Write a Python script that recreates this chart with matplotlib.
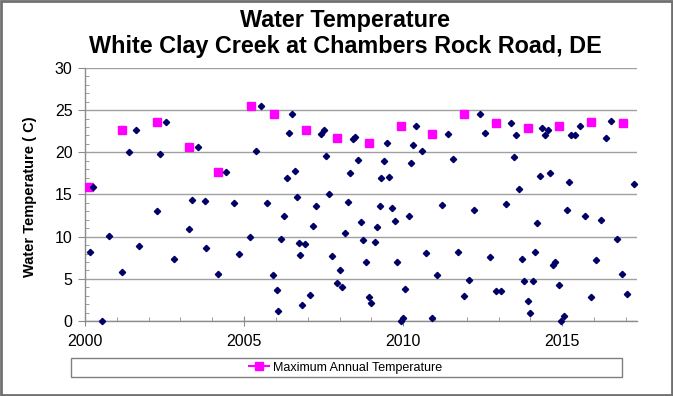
import numpy as np
import matplotlib.pyplot as plt
from matplotlib.lines import Line2D
from matplotlib.patches import Rectangle
from matplotlib.ticker import MultipleLocator

plt.rcParams['font.family'] = ['Liberation Sans', 'DejaVu Sans']

# individual water temperature measurements (decimal year, deg C)
obs_year = [
    2000.26, 2000.15, 2000.55, 2000.77, 2001.17, 2001.39, 2001.60, 2001.70,
    2002.25, 2002.35, 2002.55, 2002.81, 2003.26, 2003.35, 2003.56, 2003.76,
    2003.80, 2004.18, 2004.42, 2004.68, 2004.84, 2005.20, 2005.36, 2005.53,
    2005.72, 2005.92, 2006.02, 2006.08, 2006.17, 2006.24, 2006.35, 2006.42,
    2006.50, 2006.59, 2006.67, 2006.74, 2006.75, 2006.83, 2006.93, 2007.08,
    2007.17, 2007.25, 2007.42, 2007.51, 2007.58, 2007.66, 2007.76, 2007.92,
    2008.01, 2008.08, 2008.16, 2008.26, 2008.33, 2008.42, 2008.50, 2008.58,
    2008.67, 2008.74, 2008.83, 2008.92, 2009.00, 2009.10, 2009.18, 2009.26,
    2009.31, 2009.41, 2009.50, 2009.57, 2009.66, 2009.74, 2009.81, 2009.92,
    2009.98, 2010.06, 2010.17, 2010.24, 2010.31, 2010.41, 2010.58, 2010.73,
    2010.90, 2011.07, 2011.23, 2011.40, 2011.57, 2011.72, 2011.91, 2012.07,
    2012.23, 2012.40, 2012.56, 2012.74, 2012.91, 2013.07, 2013.22, 2013.40,
    2013.48, 2013.55, 2013.64, 2013.74, 2013.79, 2013.91, 2013.98, 2014.08,
    2014.13, 2014.22, 2014.31, 2014.37, 2014.47, 2014.55, 2014.62, 2014.71,
    2014.78, 2014.90, 2014.97, 2015.05, 2015.14, 2015.22, 2015.27, 2015.41,
    2015.55, 2015.71, 2015.89, 2016.05, 2016.21, 2016.38, 2016.53, 2016.72,
    2016.89, 2017.05, 2017.26,
]
obs_temp = [
    15.9, 8.2, 0.0, 10.1, 5.8, 20.0, 22.6, 8.9,
    13.1, 19.8, 23.6, 7.4, 10.9, 14.4, 20.6, 14.2,
    8.6, 5.6, 17.7, 14.0, 7.9, 10.0, 20.1, 25.5,
    14.0, 5.4, 3.7, 1.2, 9.7, 12.5, 17.0, 22.3,
    24.6, 17.8, 14.7, 9.3, 7.8, 1.9, 9.1, 3.1,
    11.3, 13.6, 22.2, 22.7, 19.6, 15.1, 7.7, 4.5,
    6.0, 4.0, 10.4, 14.1, 17.6, 21.6, 21.8, 19.1,
    11.7, 9.6, 7.0, 2.9, 2.1, 9.4, 11.2, 13.6,
    16.9, 19.0, 21.1, 17.1, 13.4, 11.9, 7.0, 0.0,
    0.4, 3.8, 12.4, 18.7, 20.9, 23.1, 20.2, 8.1,
    0.3, 5.5, 13.8, 22.2, 19.2, 8.2, 3.0, 4.9,
    13.2, 24.5, 22.3, 7.6, 3.6, 3.6, 13.9, 23.5,
    19.5, 22.0, 15.7, 7.4, 4.7, 2.4, 0.9, 4.7,
    8.2, 11.6, 17.2, 22.9, 22.1, 22.7, 17.5, 6.6,
    7.0, 4.3, 0.0, 0.6, 13.2, 16.5, 22.0, 22.0,
    23.1, 12.4, 2.9, 7.2, 12.0, 21.7, 23.7, 9.7,
    5.6, 3.2, 16.2,
]

# annual maxima
max_year = [2000.14, 2001.17, 2002.26, 2003.28, 2004.19, 2005.21, 2005.93,
            2006.94, 2007.91, 2008.92, 2009.92, 2010.92, 2011.92, 2012.91,
            2013.91, 2014.91, 2015.89, 2016.90]
max_temp = [15.9, 22.6, 23.6, 20.6, 17.7, 25.5, 24.6, 22.7, 21.7, 21.1,
            23.1, 22.2, 24.5, 23.5, 22.9, 23.1, 23.6, 23.5]

fig = plt.figure(figsize=(6.73, 3.96), dpi=100)
ax = fig.add_axes([0.1263, 0.1894, 0.8202, 0.6389])

ax.plot(max_year, max_temp, linestyle='none', marker='s', markersize=6.3,
        color='#ff00ff', zorder=3)
ax.plot(obs_year, obs_temp, linestyle='none', marker='D', markersize=3.2,
        color='#000066', zorder=4, clip_on=False)

ax.set_xlim(2000, 2017.35)
ax.set_ylim(0, 30)
ax.xaxis.set_major_locator(MultipleLocator(5))
ax.xaxis.set_minor_locator(MultipleLocator(1))
ax.yaxis.set_major_locator(MultipleLocator(5))
ax.yaxis.set_minor_locator(MultipleLocator(1))

ax.grid(axis='y', which='major', color='#a0a0a0', linewidth=1.0)
ax.set_axisbelow(True)
for s in ['top', 'right']:
    ax.spines[s].set_visible(False)
for s in ['left', 'bottom']:
    ax.spines[s].set_color('#8c8c8c')
    ax.spines[s].set_linewidth(1.0)

ax.tick_params(axis='x', which='major', direction='inout', length=7,
               color='#8c8c8c', labelsize=11.5, pad=6)
ax.tick_params(axis='x', which='minor', direction='in', length=3,
               color='#8c8c8c')
ax.tick_params(axis='y', which='major', direction='out', length=5,
               color='#8c8c8c', labelsize=11.5, pad=4)
ax.tick_params(axis='y', which='minor', direction='in', length=3,
               color='#8c8c8c')

fig.text(0.513, 1 - 20 / 396, 'Water Temperature', ha='center', va='center',
         fontsize=16.8, fontweight='bold')
fig.text(0.513, 1 - 47 / 396, 'White Clay Creek at Chambers Rock Road, DE',
         ha='center', va='center', fontsize=16.8, fontweight='bold')
fig.text(0.045, 1 - 197 / 396, 'Water Temperature ( C)', rotation=90,
         ha='center', va='center', fontsize=10.5, fontweight='bold')

# legend box along the bottom
fig.patches.append(Rectangle((71 / 673, 19 / 396), 551 / 673, 19 / 396,
                             transform=fig.transFigure, fill=False,
                             edgecolor='#808080', linewidth=1.0))
handle = Line2D([], [], color='#ff00ff', marker='s', markersize=5.5)
fig.legend([handle], ['Maximum Annual Temperature'], loc='center',
           bbox_to_anchor=(0.513, 28.5 / 396), frameon=False, fontsize=9,
           handlelength=1.6, handletextpad=0.3)

# outer border of the chart
fig.patches.append(Rectangle((0.0015, 0.0025), 0.997, 0.995,
                             transform=fig.transFigure, fill=False,
                             edgecolor='#707070', linewidth=2.0))

fig.savefig('out.png', dpi=100)
